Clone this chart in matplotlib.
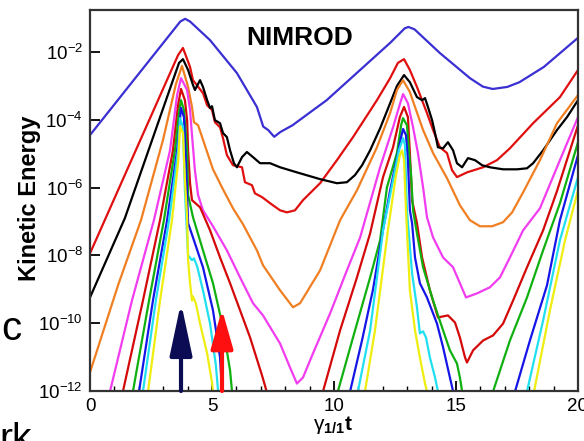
import numpy as np
import matplotlib
matplotlib.use('Agg')
import matplotlib.pyplot as plt
from matplotlib.ticker import MultipleLocator, NullLocator

plt.rcParams['font.family'] = ['Liberation Sans', 'DejaVu Sans']
plt.rcParams['mathtext.fontset'] = 'custom'
plt.rcParams['mathtext.rm'] = 'Liberation Sans'
plt.rcParams['mathtext.it'] = 'Liberation Sans:italic'
plt.rcParams['mathtext.bf'] = 'Liberation Sans:bold'

# kinetic energy of the modes (time, log10 KE)
t_1 = [0, 3.7, 3.9, 4.1, 4.92, 6.02, 6.84, 7.1, 7.3, 7.55, 7.8, 8.3, 9.7, 12.3, 12.9, 13.05, 13.3,
       14.34, 15.57, 16.1, 16.5, 17.1, 17.6, 18.6, 20]
lg_1 = [-4.45, -1.1, -1.02, -1.1, -1.65, -2.62, -3.62, -4.2, -4.3, -4.5, -4.36, -4.16, -3.42, -1.73,
        -1.3, -1.26, -1.33, -2.03, -2.77, -3.02, -3.09, -3.03, -2.89, -2.44, -1.58]

t_2 = [0, 3.61, 3.81, 4.10, 4.22, 4.63, 4.80, 5.00, 5.12, 5.33, 5.45, 5.61, 5.86, 6.23, 6.35, 6.64,
       6.76, 7.05, 7.38, 7.79, 8.07, 8.40, 8.73, 9.43, 10.12, 10.78, 11.76, 12.30, 12.62, 12.87,
       13.11, 13.40, 13.81, 14.06, 14.34, 14.63, 14.84, 15.04, 15.45, 16.11, 16.68, 17.21, 18.16,
       19.26, 20]
lg_2 = [-7.94, -2.09, -1.88, -2.44, -2.83, -3.21, -3.57, -3.71, -4.07, -4.22, -4.54, -5.04, -5.34,
        -5.40, -5.84, -5.93, -6.17, -6.28, -6.46, -6.67, -6.73, -6.67, -6.37, -5.87, -5.19, -4.51,
        -3.42, -2.77, -2.32, -2.21, -2.53, -3.03, -3.80, -4.30, -4.81, -4.98, -5.49, -5.69, -5.55,
        -5.40, -5.19, -4.84, -4.10, -3.33, -2.53]

t_3 = [0, 1.43, 3.40, 3.65, 3.81, 4.02, 4.22, 4.30, 4.51, 4.63, 4.80, 4.92, 5.00, 5.12, 5.33, 5.45,
       5.61, 5.74, 5.90, 6.02, 6.23, 6.43, 6.68, 6.97, 7.38, 7.79, 8.48, 9.43, 10.12, 10.53, 10.86,
       11.15, 11.48, 11.89, 12.30, 12.58, 12.87, 13.11, 13.40, 13.61, 13.73, 13.85, 14.02, 14.14,
       14.26, 14.47, 14.67, 14.88, 15.04, 15.25, 15.49, 15.78, 16.07, 16.39, 16.93, 17.50, 17.91,
       18.16, 18.57, 19.14, 19.55, 20]
lg_3 = [-9.24, -6.90, -2.83, -2.32, -2.21, -2.53, -2.97, -3.12, -2.83, -3.03, -3.42, -3.65, -3.60,
        -4.01, -4.10, -4.39, -4.51, -4.90, -5.28, -5.40, -5.10, -4.95, -5.10, -5.28, -5.28, -5.40,
        -5.55, -5.75, -5.87, -5.84, -5.63, -5.34, -4.90, -4.25, -3.51, -3.00, -2.68, -2.89, -3.33,
        -3.42, -3.36, -3.62, -4.01, -4.39, -4.81, -4.84, -4.66, -4.90, -5.28, -5.40, -5.13, -5.19,
        -5.34, -5.40, -5.46, -5.46, -5.43, -5.28, -4.90, -4.30, -3.92, -3.42]

t_4 = [0, 1.15, 2.09, 2.99, 3.52, 3.77, 4.02, 4.18, 4.26, 4.43, 4.80, 5.04, 5.45, 5.86, 6.27, 6.84,
       7.09, 7.79, 8.32, 8.61, 9.43, 10.25, 10.94, 11.76, 12.30, 12.58, 12.83, 13.11, 13.32, 13.65,
       14.06, 14.63, 15.16, 15.57, 15.98, 16.48, 16.93, 17.30, 17.75, 18.44, 19.14, 20]
lg_4 = [-11.45, -8.88, -6.96, -4.60, -2.95, -2.41, -3.03, -3.62, -4.07, -4.16, -4.95, -5.46, -6.05,
        -6.61, -7.08, -7.85, -8.29, -9.03, -9.53, -9.41, -8.44, -6.96, -6.08, -4.81, -3.80, -3.12,
        -2.83, -3.18, -3.62, -4.30, -4.98, -5.72, -6.52, -6.96, -7.14, -7.14, -7.02, -6.73, -6.14,
        -5.19, -4.10, -3.27]

t_5 = [0.61, 0.82, 1.72, 2.62, 3.28, 3.57, 3.73, 3.98, 4.10, 4.18, 4.30, 4.43, 4.63, 5.04, 5.61,
       6.15, 6.68, 7.09, 7.79, 8.20, 8.48, 8.73, 9.14, 9.84, 10.53, 11.07, 11.89, 12.42, 12.70,
       12.83, 13.03, 13.24, 13.44, 13.65, 13.81, 14.06, 14.47, 14.88, 15.16, 15.41, 15.86, 16.39,
       16.80, 17.21, 17.75, 18.44, 19.26, 20]
lg_5 = [-12.87, -12.01, -9.33, -6.96, -4.90, -3.27, -2.77, -3.12, -3.71, -4.45, -5.49, -6.22, -6.67,
        -7.14, -7.85, -8.65, -9.41, -9.77, -10.60, -11.31, -11.78, -11.60, -10.89, -9.71, -8.44,
        -7.47, -5.40, -4.22, -3.54, -3.24, -3.51, -4.22, -4.98, -5.99, -6.87, -7.47, -8.06, -8.35,
        -8.82, -9.24, -9.12, -8.94, -8.65, -8.06, -7.26, -6.61, -5.19, -3.92]

t_6 = [1.15, 1.35, 2.17, 2.87, 3.40, 3.61, 3.73, 3.89, 3.98, 4.02, 4.10, 4.18, 4.51, 4.92, 5.33,
       5.74, 6.15, 6.56, 7.05, 7.25, 7.46, np.nan, 9.34, 9.55, 10.25, 10.94, 11.48, 12.01, 12.42,
       12.70, 12.87, 13.03, 13.11, 13.20, 13.40, 13.61, 13.93, 14.26, 14.67, 14.96, 15.16, 15.37,
       15.45, 15.70, 16.11, 16.52, 16.93, 17.34, 17.91, 18.57, 19.14, 20]
lg_6 = [-12.64, -12.01, -9.33, -6.96, -4.90, -3.57, -3.09, -3.42, -4.01, -4.90, -5.87, -6.37, -6.58,
        -7.26, -8.06, -8.82, -9.62, -10.42, -11.54, -12.04, -12.58, np.nan, -12.58, -12.01, -10.21,
        -8.65, -7.35, -5.69, -4.81, -3.92, -3.62, -3.92, -4.98, -6.37, -7.05, -8.06, -9.03, -9.83,
        -9.77, -9.98, -10.42, -11.01, -11.16, -10.80, -10.51, -10.36, -10.01, -9.33, -8.35, -7.26,
        -6.10, -4.16]

t_7 = [1.56, 1.76, 2.42, 3.03, 3.48, 3.65, 3.73, 3.85, 3.98, 4.02, 4.22, 4.63, 5.04, 5.45, 5.74,
       5.82, 5.94, np.nan, 9.96, 10.16, 10.78, 11.48, 11.89, 12.17, 12.58, 12.75, 12.83, 12.99,
       13.07, 13.16, 13.24, 13.40, 13.65, 14.06, 14.47, 14.75, 15.04, 15.16, 15.25, 15.33, np.nan,
       16.31, 16.52, 17.21, 17.91, 18.57, 19.26, 20]
lg_7 = [-12.58, -12.01, -9.33, -6.96, -4.90, -3.77, -3.42, -3.71, -4.90, -6.22, -6.87, -7.85, -8.82,
        -10.12, -11.39, -12.01, -12.58, np.nan, -12.58, -12.01, -10.42, -8.65, -7.55, -5.99, -4.98,
        -4.16, -3.95, -4.16, -4.90, -5.63, -6.67, -7.35, -8.35, -9.33, -10.21, -10.80, -11.19,
        -11.60, -12.01, -12.58, np.nan, -12.58, -12.01, -10.51, -9.24, -7.85, -6.46, -4.66]

t_8 = [1.80, 2.01, 2.58, 3.16, 3.57, 3.73, 3.85, 3.93, 4.02, 4.22, 4.63, 5.04, 5.33, 5.41, 5.45,
       np.nan, 10.49, 10.66, 11.15, 11.60, 11.97, 12.30, 12.62, 12.75, 12.83, 12.95, 13.03, 13.11,
       13.20, 13.32, 13.52, 13.81, 14.22, 14.47, 14.75, 14.88, 14.96, np.nan, 17.21, 17.42, 18.03,
       18.73, 19.26, 20]
lg_8 = [-12.58, -12.01, -9.33, -6.96, -4.90, -3.65, -3.92, -5.19, -7.05, -7.47, -8.35, -9.62, -11.01,
        -12.01, -12.58, np.nan, -12.58, -12.01, -10.50, -9.00, -7.40, -6.08, -4.98, -4.51, -4.27,
        -4.45, -5.19, -6.67, -7.05, -8.06, -8.82, -9.24, -10.01, -10.71, -11.60, -12.01, -12.58,
        np.nan, -12.58, -12.01, -10.51, -8.88, -6.96, -5.04]

t_9 = [1.97, 2.17, 2.70, 3.24, 3.61, 3.69, 3.81, 3.89, 4.02, 4.18, 4.26, 4.39, 4.63, 4.92, 5.16,
       5.25, 5.29, np.nan, 10.82, 10.98, 11.48, 12.01, 12.42, 12.66, 12.83, 12.91, 12.99, 13.20,
       13.40, 13.52, 13.65, 13.77, 13.93, 14.14, 14.26, 14.34, np.nan, 17.70, 17.91, 18.57, 19.26, 20]
lg_9 = [-12.58, -12.01, -9.33, -6.96, -4.90, -3.95, -4.22, -6.08, -8.00, -8.14, -8.09, -8.32, -9.03,
        -10.01, -11.25, -12.01, -12.58, np.nan, -12.58, -12.01, -10.21, -7.26, -5.78, -4.90, -4.54,
        -4.75, -6.67, -8.53, -9.53, -10.30, -10.24, -10.42, -11.01, -11.60, -12.01, -12.58, np.nan,
        -12.58, -12.01, -9.92, -7.55, -5.69]

t_10 = [2.17, 2.38, 2.87, 3.36, 3.62, 3.69, 3.81, 3.89, 3.98, 4.02, 4.10, 4.18, 4.22, 4.34, 4.51,
        4.80, 5.0, 5.04, 5.08, np.nan, 11.11, 11.27, 11.68, 12.21, 12.54, 12.70, 12.79, 12.87, 12.95,
        13.11, 13.32, 13.52, 13.73, 13.81, 13.85, np.nan, 18.03, 18.20, 18.85, 19.47, 20]
lg_10 = [-12.58, -12.01, -9.33, -6.96, -5.19, -4.19, -4.39, -5.78, -6.87, -8.14, -8.82, -9.33, -9.21,
         -9.42, -10.01, -10.89, -11.75, -12.01, -12.58, np.nan, -12.58, -12.01, -10.21, -7.26, -5.63,
         -5.04, -4.90, -5.19, -6.67, -9.03, -10.21, -11.01, -11.78, -12.01, -12.58, np.nan, -12.58,
         -12.01, -9.62, -7.55, -6.08]

times = [t_1, t_2, t_3, t_4, t_5, t_6, t_7, t_8, t_9, t_10]
logs = [lg_1, lg_2, lg_3, lg_4, lg_5, lg_6, lg_7, lg_8, lg_9, lg_10]
colors = ['#3a2fd2', '#e01010', '#000000', '#f07f22', '#f23cf0',
          '#d40a0a', '#10b010', '#1515e8', '#20e0f0', '#eeee10']

# arrows marking two times
arrow_t = [3.73, 5.41]
arrow_tip = [10**-9.39, 10**-9.59]
arrow_color = ['#0c0c55', '#ff1010']
arrow_head = [(32, 6.8), (24, 6.8)]

fig = plt.figure(figsize=(5.84, 4.41), dpi=100)
ax = fig.add_axes([90/584, 50/441, 488/584, 381/441])

for t, lg, c in zip(times, logs, colors):
    ax.plot(t, 10**np.array(lg, dtype=float), color=c, lw=1.6)

for t, tip, c, (hl, hw) in zip(arrow_t, arrow_tip, arrow_color, arrow_head):
    ax.annotate('', xy=(t, tip), xytext=(t, 1e-12),
                arrowprops=dict(arrowstyle=f'-|>,head_length={hl},head_width={hw}',
                                mutation_scale=1, lw=3, color=c, shrinkA=0, shrinkB=0))

ax.set_yscale('log')
ax.set_xlim(0, 20)
ax.set_ylim(1e-12, 10**-0.76)
ax.set_yticks([1e-12, 1e-10, 1e-8, 1e-6, 1e-4, 1e-2])
ax.yaxis.set_minor_locator(NullLocator())
ax.xaxis.set_major_locator(MultipleLocator(5))
ax.xaxis.set_minor_locator(MultipleLocator(1))
ax.tick_params(which='major', direction='in', length=7, width=1.3, labelsize=13.5, pad=5)
ax.tick_params(which='minor', direction='in', length=3.5, width=1)
for s in ax.spines.values():
    s.set_linewidth(1.6)
    s.set_color('#333333')

ax.text(0.43, 0.908, 'NIMROD', transform=ax.transAxes, fontsize=19, fontweight='bold',
        ha='center', va='baseline')

fig.text(30/584, 0.55, 'Kinetic Energy', rotation=90, fontsize=17, fontweight='bold',
         ha='center', va='center')
fig.text(333/584, 11/441, r'$\mathrm{\gamma}_{\mathbf{1/1}}\mathbf{t}$', fontsize=15,
         ha='center', va='baseline')

# bits of slide text cut off at the edge
fig.text(1/584, 101/441, 'c', fontsize=29, va='baseline')
fig.text(-1/584, -9/441, 'rk', fontsize=28, va='baseline')

fig.savefig('out.png', dpi=100)
